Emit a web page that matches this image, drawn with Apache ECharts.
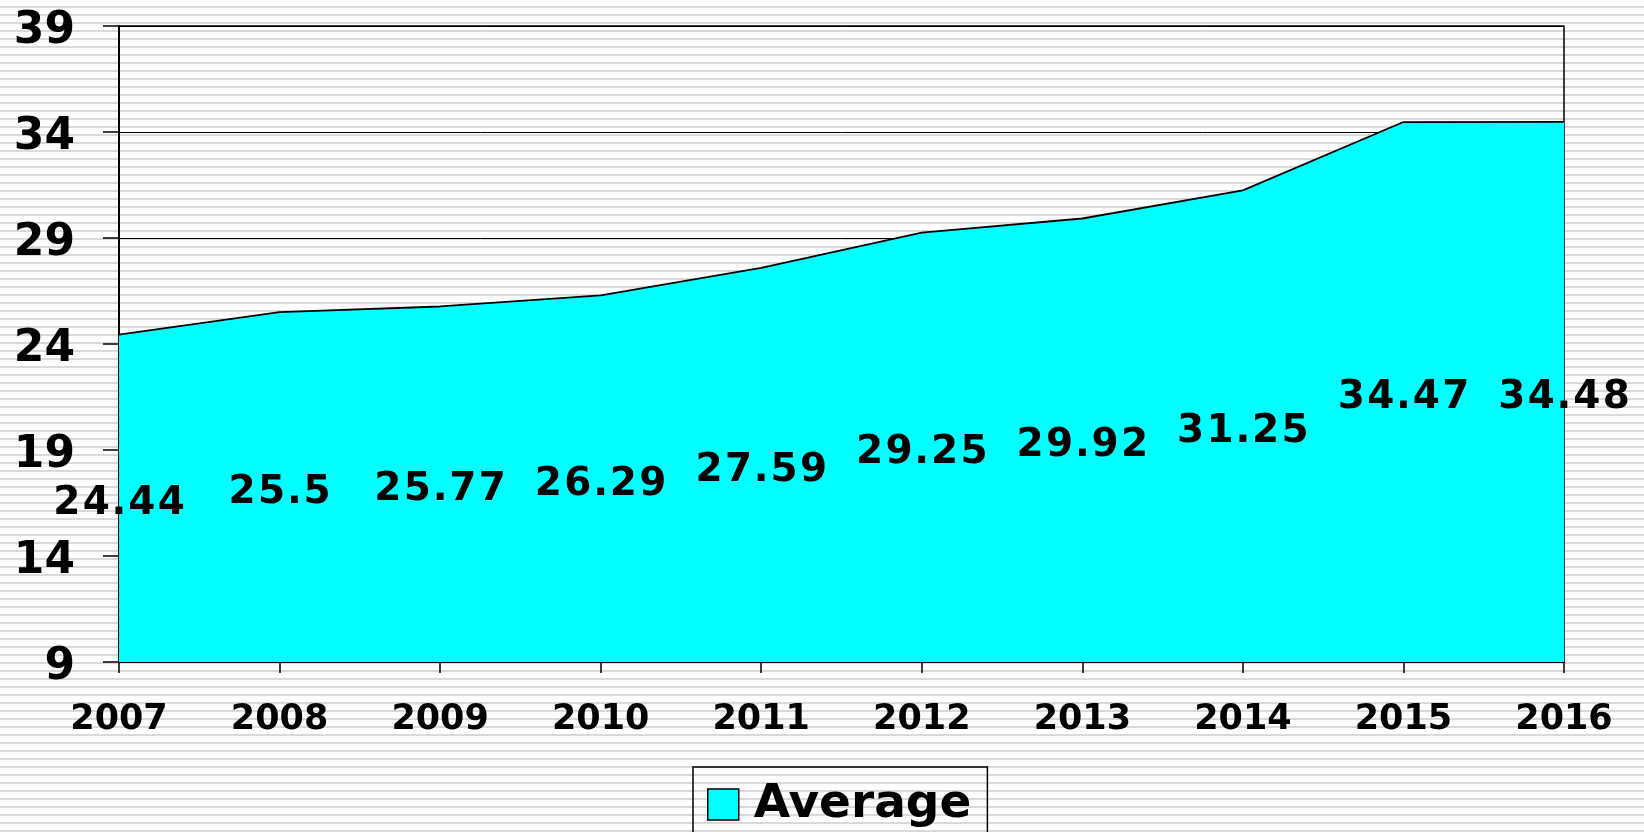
<!DOCTYPE html>
<head>
    <meta charset="utf-8">
    <script type="text/javascript" src="https://cdn.jsdelivr.net/npm/echarts@6/dist/echarts.min.js"></script>
    <style>
        html, body { margin: 0; padding: 0; }
        body {
            width: 1644px; height: 832px; overflow: hidden;
            background: repeating-linear-gradient(to bottom, #ffffff 0px, #ffffff 6px, #d9d9d9 6px, #d9d9d9 8px);
        }
    </style>
</head>
<body>
<div id="container" style="width: 1644px; height: 832px"></div>
<script type="text/javascript">
    var years = ['2007', '2008', '2009', '2010', '2011', '2012', '2013', '2014', '2015', '2016'];
    var average = [24.44, 25.5, 25.77, 26.29, 27.59, 29.25, 29.92, 31.25, 34.47, 34.48];
    var yTicks = { min: 9, max: 39, interval: 5 };

    var font = '"DejaVu Sans", Verdana, sans-serif';
    var myChart = echarts.init(document.getElementById('container'));

    // the labels in the picture are widely spaced, so every character gets its own box
    function spaced(params) {
        return String(params.value).split('').map(function (ch) {
            return ch === '.' ? '{p|.}' : '{d|' + ch + '}';
        }).join('');
    }
    var labelText = { color: '#000', fontFamily: font, fontWeight: 'bold', fontSize: 39, align: 'center' };

    var option = {
        backgroundColor: 'transparent',
        animation: false,
        grid: {
            left: 119, right: 80, top: 26, bottom: 170,
            show: true, borderColor: '#000', borderWidth: 1.5,
            backgroundColor: 'transparent'
        },
        legend: {
            data: ['Average'],
            left: 693, top: 767,
            padding: [14, 16, 30, 14],
            borderColor: '#000', borderWidth: 1.5,
            backgroundColor: 'transparent',
            icon: 'rect', itemWidth: 31, itemHeight: 31, itemGap: 0,
            itemStyle: { color: '#00ffff', borderColor: '#000', borderWidth: 1.5 },
            textStyle: { fontFamily: font, fontWeight: 'bold', fontSize: 47, color: '#000', padding: [0, 0, 0, 10] }
        },
        xAxis: {
            type: 'category',
            data: years,
            boundaryGap: false,
            axisLine: { lineStyle: { color: '#000', width: 2 } },
            axisTick: { alignWithLabel: true, length: 11, lineStyle: { color: '#000', width: 1.5 } },
            axisLabel: { margin: 40, color: '#000', fontFamily: font, fontWeight: 'bold', fontSize: 35 },
            splitLine: { show: false }
        },
        yAxis: {
            type: 'value',
            min: yTicks.min, max: yTicks.max, interval: yTicks.interval,
            axisLine: { show: true, lineStyle: { color: '#000', width: 2 } },
            axisTick: { show: true, length: 16, lineStyle: { color: '#000', width: 1.5 } },
            axisLabel: {
                margin: 44,
                formatter: '{t|{value}}',
                rich: { t: { color: '#000', fontFamily: font, fontWeight: 'bold', fontSize: 44, padding: [12, 0, 0, 0] } }
            },
            splitLine: { show: true, lineStyle: { color: '#000', width: 1 } }
        },
        series: [
            {
                name: 'Average',
                type: 'line',
                data: average,
                symbol: 'none',
                lineStyle: { color: '#000', width: 1.8 },
                itemStyle: { color: '#00ffff' },
                areaStyle: { color: '#00ffff', opacity: 1, origin: 'start' },
                z: 2
            },
            {
                name: 'labels',
                type: 'bar',
                data: average,
                barWidth: 10,
                itemStyle: { color: 'rgba(0,0,0,0)' },
                label: {
                    show: true, position: 'inside', offset: [0, 6],
                    formatter: spaced,
                    rich: {
                        d: Object.assign({ width: 29.5 }, labelText),
                        p: Object.assign({ width: 16 }, labelText)
                    }
                },
                z: 5
            }
        ]
    };
    myChart.setOption(option);
</script>
</body>
</html>
